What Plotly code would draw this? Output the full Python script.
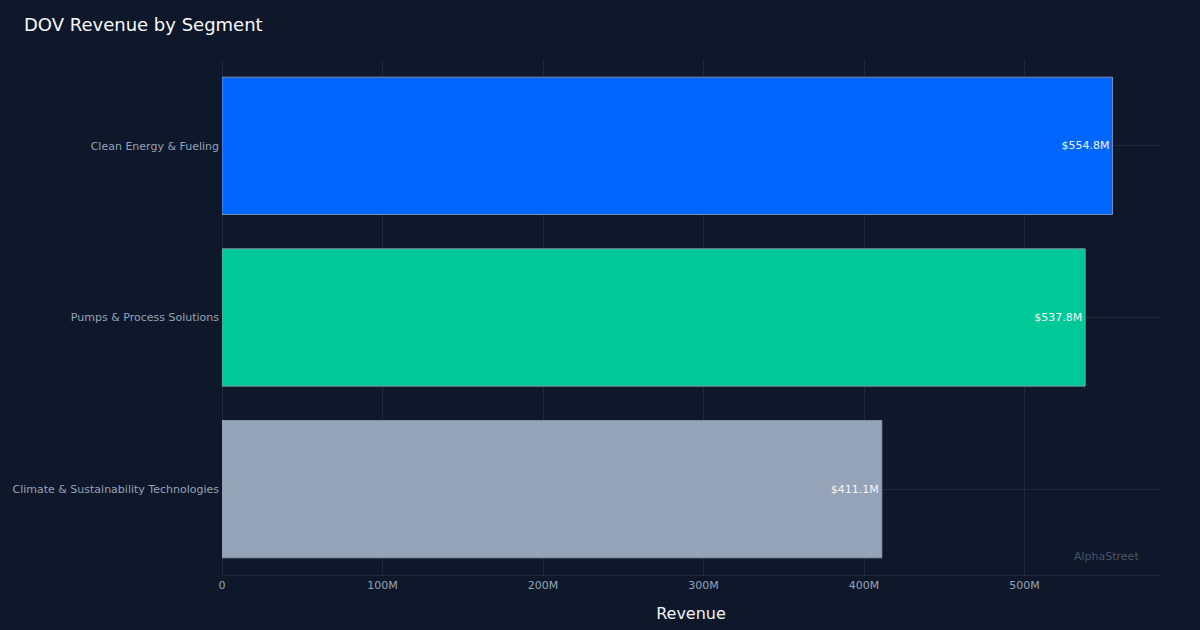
import plotly.graph_objects as go

# Segment revenue (in $M)
segments = ["Climate & Sustainability Technologies", "Pumps & Process Solutions", "Clean Energy & Fueling"]
revenue_m = [411.1, 537.8, 554.8]
bar_colors = ["#94a3b8", "#00c896", "#0066ff"]
value_labels = ["$411.1M", "$537.8M", "$554.8M"]

tick_vals = [0, 100e6, 200e6, 300e6, 400e6, 500e6]
tick_text = ["0", "100M", "200M", "300M", "400M", "500M"]

bg = "#0f172a"
grid = "#1e293b"
muted = "#94a3b8"
font = "DejaVu Sans, sans-serif"

fig = go.Figure()
fig.add_trace(go.Bar(
    x=[v * 1e6 for v in revenue_m],
    y=segments,
    orientation="h",
    marker=dict(color=bar_colors, line=dict(color="rgba(148,163,184,0.8)", width=1)),
    text=value_labels,
    textposition="inside",
    insidetextanchor="end",
    textfont=dict(color="#f1f5f9", size=11, family=font),
    hoverinfo="skip",
))

fig.update_layout(
    width=1200, height=630,
    paper_bgcolor=bg, plot_bgcolor=bg,
    margin=dict(l=222, r=40, t=60, b=55),
    bargap=0.2,
    showlegend=False,
    font=dict(family=font, color=muted, size=11),
    title=dict(text="DOV Revenue by Segment", x=0.02, xanchor="left", y=0.961, yanchor="middle",
               font=dict(size=18, color="#f8fafc", family=font)),
    xaxis=dict(
        range=[0, 584.4e6],
        tickvals=tick_vals, ticktext=tick_text,
        showgrid=True, gridcolor=grid, gridwidth=1,
        zeroline=True, zerolinecolor=grid, zerolinewidth=1,
        showline=True, linecolor=grid, linewidth=1,
        tickfont=dict(size=11, color=muted),
        title=dict(text="Revenue", font=dict(size=16, color="#f1f5f9"), standoff=16),
        automargin=False,
    ),
    yaxis=dict(
        showgrid=True, gridcolor=grid, gridwidth=1,
        tickfont=dict(size=11, color=muted),
        ticklabelstandoff=2,
        automargin=False,
    ),
    annotations=[dict(
        text="AlphaStreet", xref="paper", yref="paper", x=0.98, y=0.035,
        xanchor="right", yanchor="middle", showarrow=False,
        font=dict(size=11, color="#475569", family=font),
    )],
)

# drop the page's default body margin so the chart sits at 0,0
fig.write_html(
    "out.html",
    config={"displayModeBar": False},
    post_script="document.body.style.margin='0';document.body.style.background='#0f172a';",
)
